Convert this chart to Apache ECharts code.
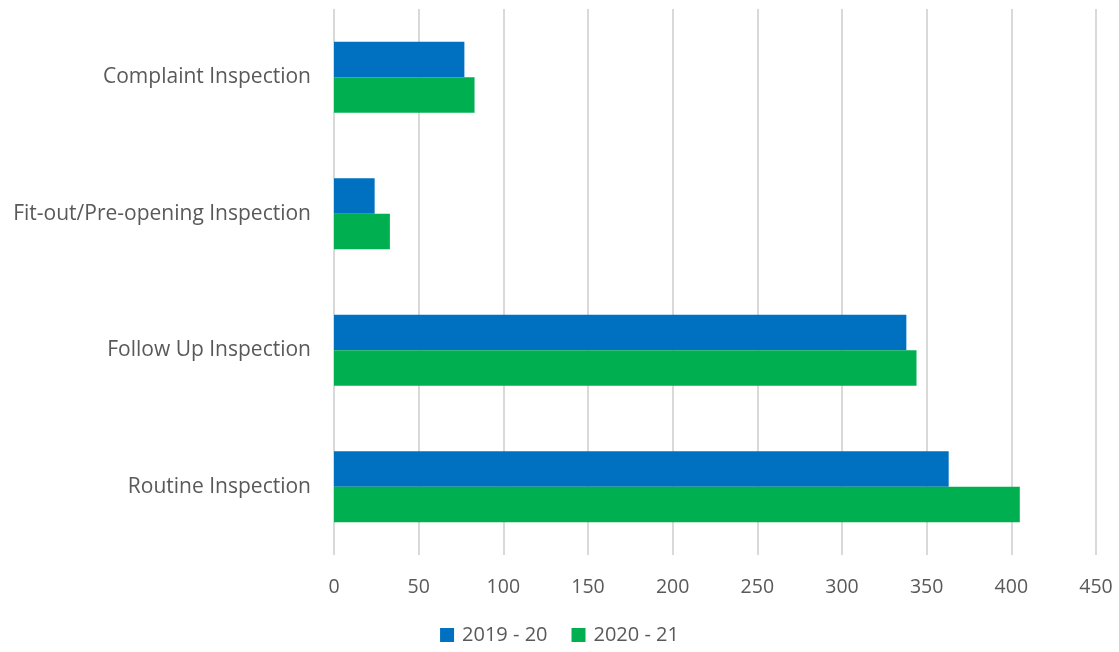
<!DOCTYPE html>
<html>
<head>
<meta charset="utf-8">
<style>
  html, body { margin: 0; padding: 0; background: #ffffff; }
  #chart { width: 1119px; height: 652px; }
</style>
<script src="https://cdn.jsdelivr.net/npm/echarts@6/dist/echarts.min.js"></script>
</head>
<body>
<div id="chart"></div>
<script>
// Inspection types, top to bottom
const categories = [
  'Complaint Inspection',
  'Fit-out/Pre-opening Inspection',
  'Follow Up Inspection',
  'Routine Inspection'
];

// Number of inspections per year
const seriesNames = ['2019 - 20', '2020 - 21'];
const values2019 = [77, 24, 338, 363];
const values2020 = [83, 33, 344, 405];

const seriesColors = ['#0070C0', '#00B050'];
const textColor = '#595959';
const fontFamily = '"Open Sans", sans-serif';

const chart = echarts.init(document.getElementById('chart'));

chart.setOption({
  animation: false,
  textStyle: { fontFamily: fontFamily },
  grid: { left: 334, right: 23, top: 9, bottom: 97, containLabel: false },
  legend: {
    bottom: 2,
    left: 'center',
    itemWidth: 14,
    itemHeight: 14,
    itemGap: 24,
    icon: 'rect',
    textStyle: { color: textColor, fontSize: 20, fontFamily: fontFamily, padding: [0, 0, 0, 3] },
    data: seriesNames
  },
  xAxis: {
    type: 'value',
    min: 0,
    max: 450,
    interval: 50,
    axisLine: { show: false },
    axisTick: { show: false },
    axisLabel: { color: textColor, fontSize: 19.5, margin: 22, fontFamily: fontFamily },
    splitLine: { show: true, lineStyle: { color: '#d9d9d9', width: 2 } }
  },
  yAxis: {
    type: 'category',
    inverse: true,
    data: categories,
    axisLine: { show: false },
    axisTick: { show: false },
    axisLabel: { color: textColor, fontSize: 21, margin: 23, fontFamily: fontFamily }
  },
  series: [
    {
      name: seriesNames[0],
      type: 'bar',
      data: values2019,
      barCategoryGap: '48%',
      barGap: '0%',
      itemStyle: { color: seriesColors[0] }
    },
    {
      name: seriesNames[1],
      type: 'bar',
      data: values2020,
      barCategoryGap: '48%',
      barGap: '0%',
      itemStyle: { color: seriesColors[1] }
    }
  ]
});
</script>
</body>
</html>
